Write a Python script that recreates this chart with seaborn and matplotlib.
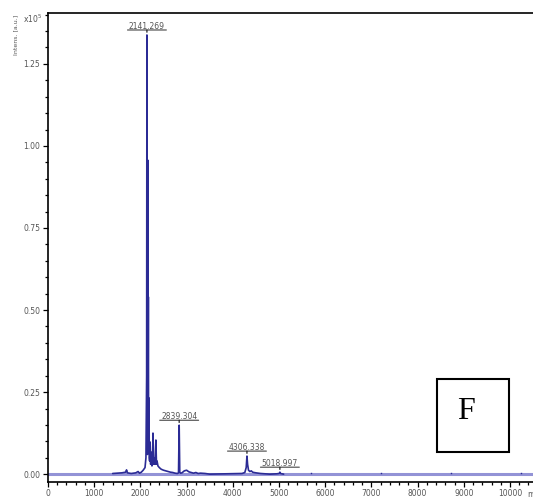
import matplotlib
matplotlib.use("Agg")
import matplotlib.pyplot as plt
import matplotlib.transforms as mtransforms
import seaborn as sns
import pandas as pd
from matplotlib.patches import Rectangle
from matplotlib.ticker import MultipleLocator

# Spectrum profile (m/z, intensity in units of 1e5 a.u.)
mz = [1400, 1500, 1600, 1680, 1700, 1720, 1760, 1800, 1900, 1950, 1980, 2020,
      2060, 2100, 2120, 2135, 2141.269, 2147, 2152, 2158, 2164, 2172, 2178,
      2186, 2192, 2200, 2210, 2222, 2235, 2250, 2262, 2272, 2285, 2300, 2318,
      2335, 2348, 2360, 2380, 2410, 2450, 2500, 2550, 2600, 2650, 2700, 2750,
      2800, 2825, 2839.304, 2852, 2870, 2900, 2950, 3000, 3050, 3100, 3150,
      3200, 3250, 3300, 3400, 3500,
      4200, 4260, 4290, 4306.338, 4320, 4340, 4370, 4400, 4430, 4460, 4500,
      4600, 4700, 4800, 4950, 5005, 5018.997, 5030, 5100]
intensity = [0.002, 0.003, 0.004, 0.006, 0.013, 0.004, 0.003, 0.002, 0.004,
             0.008, 0.003, 0.006, 0.012, 0.02, 0.05, 0.3, 1.338, 0.2, 0.06,
             0.957, 0.1, 0.54, 0.07, 0.232, 0.05, 0.04, 0.098, 0.03, 0.067,
             0.025, 0.04, 0.125, 0.03, 0.05, 0.03, 0.104, 0.03, 0.04, 0.025,
             0.02, 0.015, 0.012, 0.01, 0.008, 0.006, 0.005, 0.003, 0.002,
             0.004, 0.149, 0.006, 0.003, 0.004, 0.01, 0.012, 0.007, 0.005,
             0.003, 0.005, 0.002, 0.003, 0.002, 0.0,
             0.002, 0.005, 0.02, 0.055, 0.03, 0.012, 0.008, 0.01, 0.006,
             0.005, 0.004, 0.002, 0.001, 0.0, 0.001, 0.002, 0.006, 0.002, 0.0]

# Labelled peaks
peak_mz = [2141.269, 2839.304, 4306.338, 5018.997]
peak_int = [1.338, 0.149, 0.055, 0.006]

# Isolated noise spikes along the baseline
noise_mz = [5690, 7210, 8720, 10240]
noise_int = [0.002, 0.002, 0.002, 0.002]

# Baseline trace
base_mz = [0, 10800]
base_int = [0.0, 0.0]

sns.set_theme(style="ticks")
plt.rcParams["font.family"] = ["DejaVu Sans"]

W, H = 533, 498
fig = plt.figure(figsize=(W / 100, H / 100), dpi=100)

x0_px, top_px, bot_px = 48, 13, 481.7
px_per_unit = 0.0462
xmax = 10800
ax = fig.add_axes([x0_px / W, (H - bot_px) / H,
                   xmax * px_per_unit / W, (bot_px - top_px) / H])

dark = "#2b2b95"
light = "#9393d6"

sns.lineplot(x=base_mz, y=base_int, ax=ax, color=light, lw=2.2,
             estimator=None, sort=False)
spec = pd.DataFrame({"mz": mz, "intensity": intensity})
sns.lineplot(data=spec, x="mz", y="intensity", ax=ax, color=dark, lw=1.2,
             estimator=None, sort=False)
ax.plot(noise_mz, noise_int, ls="none", marker="s", ms=1.0, mew=0,
        color=dark)


def offset(dx, dy):
    return mtransforms.offset_copy(ax.transData, fig=fig, x=dx, y=dy,
                                   units="points")


label_gap = 3.6   # points between peak apex and the label underline
half_w = 14.0     # half width of the underline, points
for m, h in zip(peak_mz, peak_int):
    ax.annotate(f"{m:.3f}", xy=(m, h), xytext=(0, label_gap - 0.4),
                textcoords="offset points", ha="center", va="bottom",
                fontsize=5.5, color="#555555")
    # underline
    ax.annotate("", xy=(m, h), xycoords=offset(-half_w, label_gap),
                xytext=(m, h), textcoords=offset(half_w, label_gap),
                arrowprops=dict(arrowstyle="-", lw=0.8, color="#444444",
                                shrinkA=0, shrinkB=0))
    # small marker tick below the label
    ax.annotate("", xy=(m, h), xycoords=offset(0, label_gap - 1.6),
                xytext=(m, h), textcoords=offset(0, label_gap),
                arrowprops=dict(arrowstyle="-", lw=0.9, color="#222222",
                                shrinkA=0, shrinkB=0))

ax.set_xlim(0, xmax)
ax.set_ylim(-0.023, 1.405)
ax.xaxis.set_major_locator(MultipleLocator(1000))
ax.xaxis.set_minor_locator(MultipleLocator(200))
ax.yaxis.set_major_locator(MultipleLocator(0.25))
ax.yaxis.set_minor_locator(MultipleLocator(0.05))
ax.set_yticks([0, 0.25, 0.5, 0.75, 1.0, 1.25])
ax.set_yticklabels([f"{v:.2f}" for v in [0, 0.25, 0.5, 0.75, 1.0, 1.25]])
ax.set_xticks(range(0, 10001, 1000))
ax.set_xticklabels([str(v) for v in range(0, 10001, 1000)])
ax.tick_params(which="major", length=3.5, width=0.9, color="black",
               labelsize=5.5, labelcolor="#555555", pad=2)
ax.tick_params(which="minor", length=2.5, width=0.9, color="black")
ax.set_xlabel("")
ax.set_ylabel("")
for side in ["top", "bottom", "left", "right"]:
    ax.spines[side].set_visible(True)
    ax.spines[side].set_color("black")
    ax.spines[side].set_linewidth(1.2)

fig.text(16 / W, 1 - 15 / H, "Intens. [a.u.]", rotation=90, ha="center",
         va="top", fontsize=4.5, color="#555555")
fig.text(23 / W, 1 - 19 / H, r"x10$^5$", ha="left", va="center",
         fontsize=5.5, color="#555555")
fig.text(527 / W, 1 - 494 / H, "m/z", ha="left", va="center",
         fontsize=5.5, color="#555555")

box = Rectangle((437 / W, 1 - 452 / H), 72 / W, 73 / H, transform=fig.transFigure,
                fill=False, lw=1.5, ec="black")
fig.add_artist(box)
fig.text(466 / W, 1 - 411 / H, "F", ha="center", va="center",
         fontsize=23, family="Liberation Serif", color="black")

fig.savefig("out.png", dpi=100)
